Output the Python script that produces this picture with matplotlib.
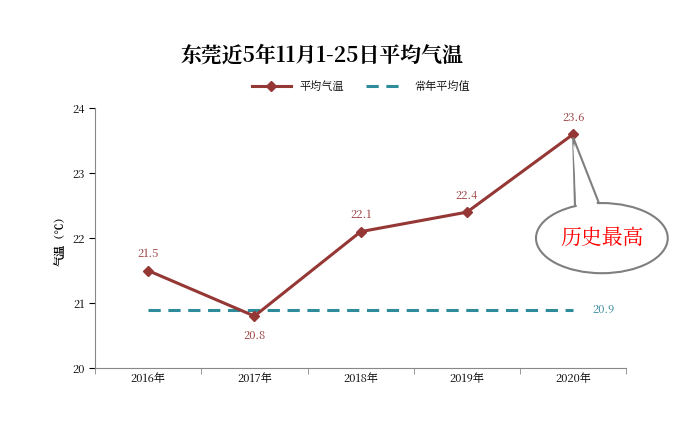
import matplotlib.pyplot as plt
from matplotlib import font_manager
from matplotlib.patches import Ellipse, Polygon

# find an installed CJK font
cjk = [f.name for f in font_manager.fontManager.ttflist if 'CJK' in f.name]
plt.rcParams['font.family'] = (cjk[:1] or ['Noto Sans CJK SC']) + ['DejaVu Sans']

years = ['2016年', '2017年', '2018年', '2019年', '2020年']
temps = [21.5, 20.8, 22.1, 22.4, 23.6]
normal = 20.9

fig = plt.figure(figsize=(6.99, 4.26), dpi=100)
ax = fig.add_axes([0.136, 0.136, 0.76, 0.61])
x = range(len(years))
ax.plot(x, temps, color='#953735', lw=2.2, marker='D', ms=5, label='平均气温', zorder=3)
ax.plot(x, [normal] * len(years), color='#2e8b9a', lw=2.2, ls=(0, (4, 2.5)), label='常年平均值')

offs = [12, -14, 12, 12, 12]
for i, (v, o) in enumerate(zip(temps, offs)):
    ax.annotate(f'{v}', (i, v), xytext=(0, o), textcoords='offset points',
                ha='center', va='center', fontsize=8, color='#953735')
ax.annotate(f'{normal}', (4, normal), xytext=(22, 0), textcoords='offset points',
            ha='center', va='center', fontsize=8, color='#31859c')

ax.set_xlim(-0.5, 4.5)
ax.set_ylim(20, 24)
ax.set_yticks([20, 21, 22, 23, 24])
ax.set_xticks(list(x))
ax.set_xticklabels(years, fontsize=8)
ax.tick_params(axis='y', labelsize=8, length=4)
ax.tick_params(axis='x', length=0)
for s in ['top', 'right']:
    ax.spines[s].set_visible(False)
for s in ['left', 'bottom']:
    ax.spines[s].set_color('#888888')
ax.set_xticks([-0.5, 0.5, 1.5, 2.5, 3.5, 4.5], minor=True)
ax.tick_params(axis='x', which='minor', length=4, color='#888888')
ax.set_ylabel('气温（℃）', fontsize=8, fontweight='bold')

ax.legend(loc='lower center', bbox_to_anchor=(0.5, 1.02), ncol=2, frameon=False,
          fontsize=8, handlelength=3.5)
fig.text(0.46, 0.87, '东莞近5年11月1-25日平均气温', ha='center', va='center',
         fontsize=15, fontweight='bold')

# callout
ax.add_patch(Polygon([(4.02, 22.3), (4.3, 22.3), (4.0, 23.55)], closed=True,
                     facecolor='white', edgecolor='#7f7f7f', lw=1.5, clip_on=False, zorder=4))
ax.add_patch(Ellipse((4.27, 22.0), 1.24, 1.08, facecolor='white', edgecolor='#7f7f7f',
                     lw=1.5, clip_on=False, zorder=5))
ax.add_patch(Polygon([(4.04, 22.3), (4.28, 22.3), (4.0, 23.45)], closed=True,
                     facecolor='white', edgecolor='none', clip_on=False, zorder=6))
ax.text(4.27, 22.0, '历史最高', color='#ff0000', fontsize=15, ha='center', va='center', zorder=7)

fig.savefig('out.png', dpi=100, facecolor='white')
